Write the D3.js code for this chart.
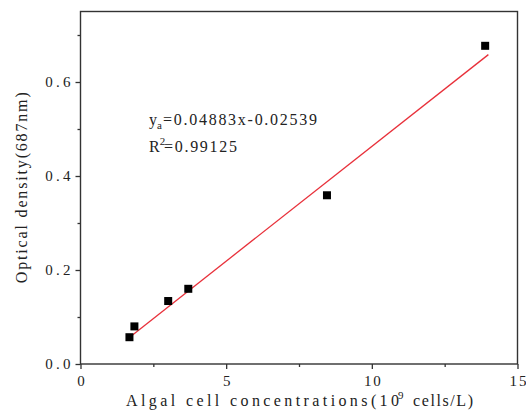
<!DOCTYPE html>
<html>
<head>
<meta charset="utf-8">
<script src="https://cdn.jsdelivr.net/npm/d3@7"></script>
<style>
  html, body { margin: 0; padding: 0; background: #fff; }
  svg { display: block; }
  text { font-family: "Liberation Serif", "DejaVu Serif", serif; fill: #222; }
</style>
</head>
<body>
<svg id="chart" width="526" height="418"></svg>
<script>
// Calibration samples: cell concentration (10^9 cells/L) vs optical density at 687 nm
const concentrations = [1.68, 1.85, 3.01, 3.70, 8.46, 13.89];
const densities = [0.057, 0.080, 0.134, 0.160, 0.359, 0.677];

// Linear fit reported on the chart
const fitSlope = 0.04883;
const fitIntercept = -0.02539;
const fitR2 = 0.99125;
const fitRange = [1.7, 14.0];

// Axis ticks
const xMajorTicks = [0, 5, 10, 15];
const xMinorTicks = [2.5, 7.5, 12.5];
const yMajorTicks = [0, 0.2, 0.4, 0.6];
const yMinorTicks = [0.1, 0.3, 0.5, 0.7];

const svg = d3.select("#chart");
const plotLeft = 80.5, plotRight = 517.5, plotTop = 11.5, plotBottom = 364;

const x = d3.scaleLinear().domain([0, 15]).range([plotLeft, plotRight]);
const y = d3.scaleLinear().domain([0, 0.75]).range([plotBottom, plotTop]);

const axisColor = "#333";
const cell = 8.4; // fixed advance per character for labels

// Spread multi-character strings over a fixed-pitch width
function fixedPitch(sel, pitch) {
  sel.each(function () {
    const n = this.textContent.length;
    if (n > 1) d3.select(this).attr("textLength", n * pitch).attr("lengthAdjust", "spacing");
  });
}

// X axis: major ticks with labels, minor ticks without
const gx = svg.append("g").attr("transform", `translate(0,${plotBottom})`)
  .call(d3.axisBottom(x).tickValues(xMajorTicks).tickSize(5).tickSizeOuter(0)
    .tickPadding(6).tickFormat(d3.format("d")));
const gxm = svg.append("g").attr("transform", `translate(0,${plotBottom})`)
  .call(d3.axisBottom(x).tickValues(xMinorTicks).tickSize(3).tickSizeOuter(0).tickFormat(""));

// Y axis
const gy = svg.append("g").attr("transform", `translate(${plotLeft},0)`)
  .call(d3.axisLeft(y).tickValues(yMajorTicks).tickSize(5).tickSizeOuter(0)
    .tickPadding(5).tickFormat(d3.format(".1f")));
const gym = svg.append("g").attr("transform", `translate(${plotLeft},0)`)
  .call(d3.axisLeft(y).tickValues(yMinorTicks).tickSize(3).tickSizeOuter(0).tickFormat(""));

[gx, gxm, gy, gym].forEach(g => {
  g.select(".domain").remove();
  g.selectAll(".tick line").attr("stroke", axisColor).attr("stroke-width", 1.3);
  g.selectAll(".tick text").attr("font-family", "Liberation Serif").attr("font-size", 15).attr("fill", "#222")
    .call(fixedPitch, cell);
});

// Plot frame
svg.append("rect")
  .attr("x", plotLeft).attr("y", plotTop)
  .attr("width", plotRight - plotLeft).attr("height", plotBottom - plotTop)
  .attr("fill", "none").attr("stroke", axisColor).attr("stroke-width", 1.4);

// Fit line
svg.append("line")
  .attr("x1", x(fitRange[0])).attr("y1", y(fitSlope * fitRange[0] + fitIntercept))
  .attr("x2", x(fitRange[1])).attr("y2", y(fitSlope * fitRange[1] + fitIntercept))
  .attr("stroke", "#e8303a").attr("stroke-width", 1.3);

// Sample markers
const size = 8;
svg.append("g").selectAll("rect")
  .data(concentrations.map((c, i) => [c, densities[i]]))
  .join("rect")
  .attr("x", d => x(d[0]) - size / 2)
  .attr("y", d => y(d[1]) - size / 2)
  .attr("width", size).attr("height", size)
  .attr("fill", "#000");

// Axis titles
const xt = svg.append("text")
  .attr("x", 126).attr("y", 406).attr("font-size", 16);
xt.append("tspan").attr("textLength", 273).attr("lengthAdjust", "spacing")
  .text("Algal cell concentrations(10");
xt.append("tspan").attr("x", 398).attr("font-size", 11).attr("dy", -7).text("9");
xt.append("tspan").attr("x", 413).attr("dy", 7).attr("textLength", 60).attr("lengthAdjust", "spacing")
  .text("cells/L)");

svg.append("text")
  .attr("transform", `translate(27,${(plotTop + plotBottom) / 2}) rotate(-90)`)
  .attr("text-anchor", "middle").attr("font-size", 16)
  .attr("textLength", 191).attr("lengthAdjust", "spacing")
  .text("Optical density(687nm)");

// Fit equation and R²
const fmt = d3.format(".5f");
const eq = svg.append("text").attr("x", 149).attr("y", 125).attr("font-size", 16);
eq.append("tspan").text("y");
eq.append("tspan").attr("font-size", 11).attr("dy", 4).text("a");
const eqBody = `=${fmt(fitSlope)}x-${fmt(-fitIntercept)}`;
eq.append("tspan").attr("dy", -4).attr("x", 163)
  .attr("textLength", 154).attr("lengthAdjust", "spacing")
  .text(eqBody);

const r2 = svg.append("text").attr("x", 149).attr("y", 152).attr("font-size", 16);
r2.append("tspan").text("R");
r2.append("tspan").attr("font-size", 11).attr("dy", -7).text("2");
r2.append("tspan").attr("dy", 7).attr("x", 164)
  .attr("textLength", 73).attr("lengthAdjust", "spacing")
  .text(`=${fmt(fitR2)}`);
</script>
</body>
</html>
